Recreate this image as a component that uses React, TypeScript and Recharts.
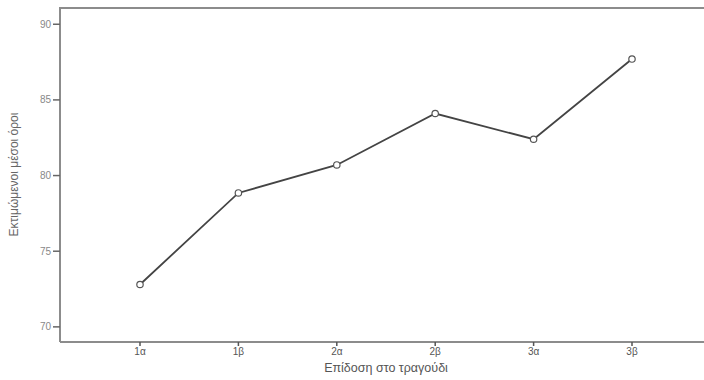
import { LineChart, Line, XAxis, YAxis, Label, CartesianGrid } from "recharts";

const categories = ["1α", "1β", "2α", "2β", "3α", "3β"];
const meanValues = [72.8, 78.85, 80.7, 84.1, 82.4, 87.7];
const yTicks = [70, 75, 80, 85, 90];
const yDomain = [69, 91.14];

const data = categories.map((name, i) => ({ name, value: meanValues[i] }));

const font = "'Liberation Sans', Arial, sans-serif";

export default function App() {
  return (
    <div style={{ width: 704, height: 380, background: "#fff" }}>
      <style>{`body{margin:0}`}</style>
      <LineChart
        width={704}
        height={380}
        data={data}
        margin={{ top: 7, right: 0, bottom: 0, left: 0 }}
        style={{ fontFamily: font }}
      >
        {/* top edge of the frame */}
        <CartesianGrid
          vertical={false}
          horizontalCoordinatesGenerator={() => [8]}
          stroke="#8c8c8c"
          strokeWidth={2}
          strokeDasharray="0"
        />
        <XAxis
          dataKey="name"
          height={38}
          padding={{ left: 80, right: 72 }}
          axisLine={{ stroke: "#8c8c8c", strokeWidth: 2 }}
          tickLine={{ stroke: "#555", strokeWidth: 1.5 }}
          tickSize={4}
          tickMargin={2}
          tick={{ fontSize: 10, fill: "#555", fontFamily: font }}
          interval={0}
        >
          <Label
            value="Επίδοση στο τραγούδι"
            position="center"
            dx={4}
            dy={7}
            style={{ fontSize: 12.5, fill: "#555", fontFamily: font }}
          />
        </XAxis>
        <YAxis
          width={60}
          domain={yDomain}
          ticks={yTicks}
          allowDataOverflow
          axisLine={{ stroke: "#8c8c8c", strokeWidth: 2 }}
          tickLine={{ stroke: "#666", strokeWidth: 1.5 }}
          tickSize={7}
          tickMargin={2}
          tick={{ fontSize: 10, fill: "#888", fontFamily: font }}
        >
          <Label
            value="Εκτιμώμενοι μέσοι όροι"
            angle={-90}
            position="center"
            dx={-16}
            style={{ fontSize: 12, fill: "#666", fontFamily: font, textAnchor: "middle" }}
          />
        </YAxis>
        <Line
          type="linear"
          dataKey="value"
          stroke="#444"
          strokeWidth={1.8}
          dot={{ r: 3.2, stroke: "#555", strokeWidth: 1.2, fill: "#fff" }}
          activeDot={false}
          isAnimationActive={false}
        />
      </LineChart>
    </div>
  );
}
